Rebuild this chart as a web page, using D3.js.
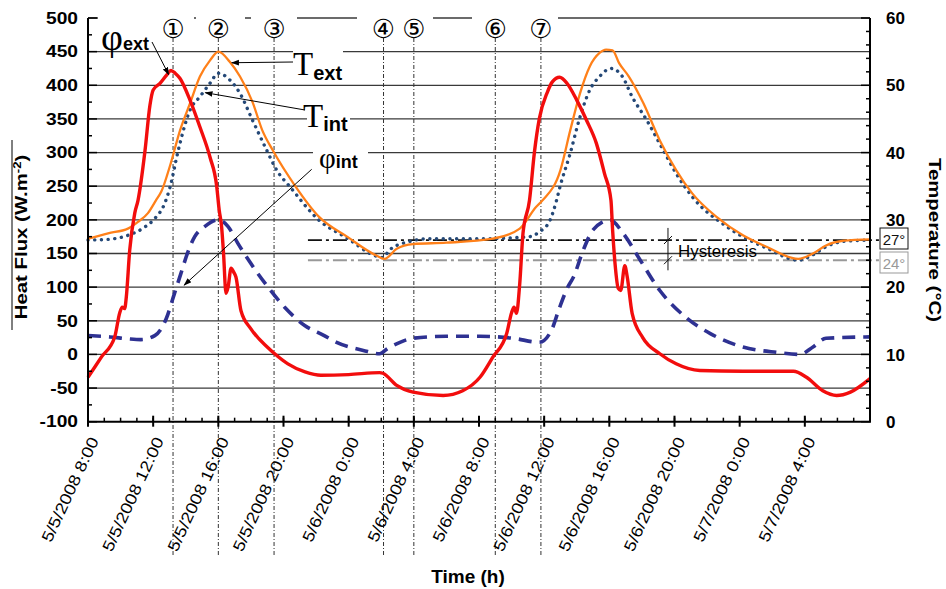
<!DOCTYPE html>
<html>
<head>
<meta charset="utf-8">
<script src="https://cdn.jsdelivr.net/npm/d3@7"></script>
<style>
  body { margin: 0; background: #fff; }
  svg { display: block; font-family: "Liberation Sans", Arial, sans-serif; }
</style>
</head>
<body>
<div id="chart"></div>
<script>
// variables
const WIDTH = 946;
const HEIGHT = 589;
const PLOT = { left: 88, right: 870, top: 18, bottom: 421.7 };
const START = new Date(2008, 4, 5, 8);
const END = new Date(2008, 4, 7, 8);

const RED = "#f20d0d";
const ORANGE = "#ff8019";
const INDIGO = "#2e3192";
const NAVY = "#244877";

// data: [hours since 5/5/2008 8:00, value]
const fluxTicks = [-100, -50, 0, 50, 100, 150, 200, 250, 300, 350, 400, 450, 500];
const tempTicks = [0, 10, 20, 30, 40, 50, 60];
const markerHours = [5.22, 8.0, 11.42, 18.14, 20.0, 25.0, 27.8];
const markerLabels = ["①", "②", "③", "④", "⑤", "⑥", "⑦"];
const setpoints = [27, 24];
const hysteresisHour = 35.6;

// heat flux, W/m2
const phiExt = [[0,-34],[0.82,-4],[1.64,26],[1.95,62],[2.1,70],[2.25,68],[2.35,85],[2.56,155],[2.87,210],
  [3.07,229],[3.5,303],[3.8,370],[4.0,393],[4.42,403],[4.85,416],[5.09,422],[5.35,418],[5.65,410],[6.26,378],
  [6.87,338],[7.49,293],[7.9,250],[8.05,215],[8.2,190],[8.32,150],[8.47,91],[8.6,100],[8.78,128],[8.95,122],
  [9.08,115],[9.39,65],[10.0,38],[11.05,10],[11.46,1],[12.27,-14],[13.32,-26],[14.3,-31],[16.0,-30],[17.9,-27],
  [18.1,-28],[18.95,-46],[19.95,-56],[21.8,-61],[23.0,-54],[24.06,-34],[24.85,-4],[25.7,31],[26.0,62],[26.15,70],
  [26.3,61],[26.5,105],[26.7,180],[27.1,229],[27.4,300],[27.7,350],[28.2,390],[28.5,405],[28.95,412],[29.4,403],
  [30.0,378],[30.6,348],[31.2,314],[31.7,269],[32.1,229],[32.2,185],[32.35,135],[32.55,98],[32.7,95],[32.95,132],
  [33.1,115],[33.4,61],[34.05,25],[35.1,1],[36.1,-14],[37.55,-24],[40.2,-25],[43.3,-25],[44.1,-34],[45.1,-54],
  [45.95,-61],[46.8,-56],[48,-36]];
const phiInt = [[0,28],[1.35,26],[2.5,23],[3.25,22],[4.1,28],[4.8,53],[5.3,90],[5.7,120],[6.1,150],[6.55,175],
  [7.16,190],[7.98,200],[8.6,190],[9.2,165],[10.0,135],[11.05,100],[12.07,70],[13.3,43],[14.5,28],[15.26,18],
  [16.9,6],[17.9,1],[18.4,9],[19.15,18],[19.95,24],[22.0,27],[24.06,27],[26.1,24],[27.7,18],[28.45,36],[28.95,70],
  [29.45,100],[29.8,115],[30.4,155],[31.0,185],[32.05,200],[32.85,180],[33.9,140],[35.1,95],[36.7,55],[38.2,31],
  [40.2,11],[42.3,3],[43.7,0],[44.5,11],[45.3,24],[48,26]];

// temperature, °C
const tExt = [[0,27.2],[1.23,28.0],[2.45,28.7],[3.07,29.7],[3.68,31.0],[4.17,32.9],[4.5,34.2],[5.03,38.0],
  [5.65,43.3],[6.26,47.3],[6.87,51.3],[7.49,53.7],[8.0,55.0],[8.7,53.5],[9.33,51.3],[10.1,47.5],[10.7,43.3],
  [11.35,40.3],[12.7,35.1],[14.2,30.4],[15.9,27.5],[17.7,24.7],[18.2,24.2],[18.95,25.7],[19.95,26.4],[22.0,26.6],
  [24.85,27.2],[26.5,28.7],[27.5,31.9],[27.9,32.9],[29.0,37.4],[29.6,43.3],[30.2,48.8],[30.8,52.8],[31.4,54.8],
  [31.8,55.3],[32.2,55.2],[32.6,53.3],[33.2,51.3],[34.1,47.3],[35.1,41.8],[36.1,37.4],[37.1,33.9],[38.6,30.4],
  [40.2,27.7],[41.65,26.0],[43.6,24.2],[44.5,25.0],[45.3,26.2],[46.4,26.9],[48,27.1]];
const tInt = [[0,27.0],[1.23,27.1],[2.45,27.7],[3.47,28.9],[4.1,30.2],[4.7,32.4],[5.03,34.8],[5.5,39.9],
  [5.65,41.4],[6.26,46.3],[6.87,48.3],[7.49,50.3],[8.0,51.8],[8.7,50.8],[9.33,48.8],[10.1,44.8],[10.96,40.4],
  [11.58,37.4],[12.4,34.9],[14.2,29.9],[15.9,27.3],[17.7,24.6],[18.1,24.4],[18.5,25.5],[19.6,26.7],[21.0,27.2],
  [24.06,27.2],[27.1,27.5],[27.7,28.2],[28.35,29.9],[28.76,32.9],[28.97,34.9],[29.6,39.9],[30.2,45.3],[30.8,49.3],
  [31.4,51.3],[32.1,52.5],[32.8,51.3],[33.4,48.3],[34.3,44.8],[35.3,40.4],[36.1,36.9],[37.1,33.4],[39.2,29.0],
  [41.65,25.8],[43.6,24.0],[44.5,24.8],[45.3,26.0],[46.4,26.8],[48,27.0]];

// scales
const atHour = h => new Date(START.getTime() + h * 3600e3);
const x = d3.scaleTime().domain([START, END]).range([PLOT.left, PLOT.right]);
const yFlux = d3.scaleLinear().domain([-100, 500]).range([PLOT.bottom, PLOT.top]);
const yTemp = d3.scaleLinear().domain([0, 60]).range([PLOT.bottom, PLOT.top]);
const fmt = d3.timeFormat("%-m/%-d/%Y %-H:%M");

const svg = d3
  .select("#chart")
  .append("svg")
  .attr("width", WIDTH)
  .attr("height", HEIGHT);

svg.append("defs")
  .append("marker")
  .attr("id", "arrow")
  .attr("viewBox", "0 0 10 10")
  .attr("refX", 9)
  .attr("refY", 5)
  .attr("markerWidth", 8)
  .attr("markerHeight", 8)
  .attr("orient", "auto")
  .append("path")
  .attr("d", "M0,1.5L10,5L0,8.5z")
  .attr("fill", "#000");

// horizontal grid
svg.append("g")
  .selectAll("line")
  .data(fluxTicks.slice(1))
  .join("line")
  .attr("x1", PLOT.left)
  .attr("x2", PLOT.right)
  .attr("y1", d => yFlux(d))
  .attr("y2", d => yFlux(d))
  .attr("stroke", "#3a3a3a")
  .attr("stroke-width", 1.3);

// white label boxes that hide parts of the grid
const boxes = [[98, 10, 96, 27], [196, 10, 49, 27], [251, 10, 46, 27], [357, 10, 76, 27], [472, 10, 86, 27],
  [293, 40, 50, 42], [307, 100, 43, 35], [313, 140, 55, 33]];
svg.append("g")
  .selectAll("rect")
  .data(boxes)
  .join("rect")
  .attr("x", d => d[0]).attr("y", d => d[1])
  .attr("width", d => d[2]).attr("height", d => d[3])
  .attr("fill", "#fff");

// event markers
svg.append("g")
  .selectAll("line")
  .data(markerHours)
  .join("line")
  .attr("x1", d => x(atHour(d)))
  .attr("x2", d => x(atHour(d)))
  .attr("y1", 38)
  .attr("y2", 555)
  .attr("stroke", "#333")
  .attr("stroke-width", 1)
  .attr("stroke-dasharray", "4,2,1,2");

svg.append("g")
  .selectAll("text")
  .data(markerHours)
  .join("text")
  .attr("x", d => x(atHour(d)))
  .attr("y", 37.5)
  .attr("text-anchor", "middle")
  .style("font-family", "'DejaVu Sans', 'Noto Sans CJK JP'")
  .style("font-size", "26px")
  .text((d, i) => markerLabels[i]);

// set-point lines 27° / 24°
svg.append("g")
  .selectAll("line")
  .data(setpoints)
  .join("line")
  .attr("x1", x(atHour(13.5)))
  .attr("x2", 880)
  .attr("y1", d => yTemp(d))
  .attr("y2", d => yTemp(d))
  .attr("stroke", (d, i) => i ? "#999" : "#111")
  .attr("stroke-width", (d, i) => i ? 2 : 1.8)
  .attr("stroke-dasharray", "14,4,3,4");

const boxG = svg.append("g")
  .selectAll("g")
  .data(setpoints)
  .join("g")
  .attr("transform", (d, i) => `translate(880,${i ? 252 : 228})`);
boxG.append("rect")
  .attr("width", 28).attr("height", 21)
  .attr("fill", "#fff")
  .attr("stroke", (d, i) => i ? "#999" : "#111");
boxG.append("text")
  .attr("x", 14).attr("y", 16.5)
  .attr("text-anchor", "middle")
  .attr("fill", (d, i) => i ? "#999" : "#111")
  .style("font-size", "15px")
  .text(d => d + "°");

// hysteresis marker
const hx = x(atHour(hysteresisHour));
svg.append("line")
  .attr("x1", hx).attr("x2", hx)
  .attr("y1", yTemp(28.8)).attr("y2", yTemp(22.5))
  .attr("stroke", "#111").attr("stroke-width", 1);
svg.append("g")
  .selectAll("line")
  .data(setpoints)
  .join("line")
  .attr("x1", hx - 4).attr("x2", hx + 4)
  .attr("y1", d => yTemp(d) + 4).attr("y2", d => yTemp(d) - 4)
  .attr("stroke", "#111").attr("stroke-width", 1);

// series
const line = yScale => d3.line()
  .x(d => x(atHour(d[0])))
  .y(d => yScale(d[1]))
  .curve(d3.curveMonotoneX);

svg.append("path").datum(tInt)
  .attr("d", line(yTemp))
  .attr("fill", "none").attr("stroke", NAVY)
  .attr("stroke-width", 3.4).attr("stroke-linecap", "round")
  .attr("stroke-dasharray", "0.1,6.6");
svg.append("path").datum(tExt)
  .attr("d", line(yTemp))
  .attr("fill", "none").attr("stroke", ORANGE)
  .attr("stroke-width", 2.3);
svg.append("path").datum(phiInt)
  .attr("d", line(yFlux))
  .attr("fill", "none").attr("stroke", INDIGO)
  .attr("stroke-width", 3.6)
  .attr("stroke-dasharray", "13,8");
svg.append("path").datum(phiExt)
  .attr("d", line(yFlux))
  .attr("fill", "none").attr("stroke", RED)
  .attr("stroke-width", 3.4).attr("stroke-linejoin", "round");

// hysteresis label (grid passes through it)
svg.append("text")
  .attr("x", hx + 10).attr("y", 257)
  .attr("textLength", 79).attr("lengthAdjust", "spacingAndGlyphs")
  .style("font-size", "16px")
  .text("Hysteresis");

// axes
const axes = svg.append("g").attr("stroke", "#000").attr("stroke-width", 2);
axes.append("line").attr("x1", PLOT.left).attr("x2", PLOT.left).attr("y1", PLOT.top).attr("y2", PLOT.bottom);
axes.append("line").attr("x1", PLOT.right).attr("x2", PLOT.right).attr("y1", PLOT.top).attr("y2", PLOT.bottom);
axes.append("line").attr("x1", PLOT.left - 1).attr("x2", PLOT.right + 1).attr("y1", PLOT.bottom).attr("y2", PLOT.bottom);

const fluxMinor = d3.range(-100, 501, 25);
axes.append("g").selectAll("line").data(fluxMinor).join("line")
  .attr("x1", PLOT.left)
  .attr("x2", d => PLOT.left + (d % 50 === 0 ? 9 : 4))
  .attr("y1", d => yFlux(d)).attr("y2", d => yFlux(d))
  .attr("stroke-width", 1.5);
const tempMinor = d3.range(0, 61, 2);
axes.append("g").selectAll("line").data(tempMinor).join("line")
  .attr("x1", PLOT.right)
  .attr("x2", d => PLOT.right - (d % 10 === 0 ? 9 : 4))
  .attr("y1", d => yTemp(d)).attr("y2", d => yTemp(d))
  .attr("stroke-width", 1.5);
axes.append("g").selectAll("line").data(d3.timeHour.every(1).range(START, END)).join("line")
  .attr("x1", d => x(d)).attr("x2", d => x(d))
  .attr("y1", PLOT.bottom - 4).attr("y2", PLOT.bottom)
  .attr("stroke-width", 1.5);
axes.append("g").selectAll("line").data(d3.timeHour.every(4).range(START, END)).join("line")
  .attr("x1", d => x(d)).attr("x2", d => x(d))
  .attr("y1", PLOT.bottom - 6).attr("y2", PLOT.bottom + 5)
  .attr("stroke-width", 2);

// tick labels
svg.append("g")
  .selectAll("text")
  .data(fluxTicks)
  .join("text")
  .attr("transform", d => `translate(78,${yFlux(d)}) scale(1.2,1)`)
  .attr("dy", "0.36em")
  .attr("text-anchor", "end")
  .style("font-size", "16px")
  .style("font-weight", "bold")
  .text(d => d);

svg.append("g")
  .selectAll("text")
  .data(tempTicks)
  .join("text")
  .attr("x", 886)
  .attr("y", d => yTemp(d))
  .attr("dy", "0.36em")
  .style("font-size", "17px")
  .style("font-weight", "bold")
  .text(d => d);

svg.append("g")
  .selectAll("text")
  .data(d3.timeHour.every(4).range(START, END))
  .join("text")
  .attr("transform", d => `translate(${x(d) + 11},440.5) rotate(-65) scale(1.16,1)`)
  .attr("text-anchor", "end")
  .style("font-size", "16px")
  .text(d => fmt(d));

// axis titles
const leftTitle = svg.append("text")
  .attr("transform", "translate(27,237) rotate(-90) scale(1.2,1)")
  .attr("text-anchor", "middle")
  .style("font-size", "17px")
  .style("font-weight", "bold");
leftTitle.append("tspan").text("Heat Flux  (W.m");
leftTitle.append("tspan").attr("dy", -6).style("font-size", "11px").text("-2");
leftTitle.append("tspan").attr("dy", 6).text(")");
svg.append("line")
  .attr("x1", 12).attr("x2", 12).attr("y1", 140).attr("y2", 330)
  .attr("stroke", "#000").attr("stroke-width", 1);

svg.append("text")
  .attr("transform", "translate(929,240) rotate(90) scale(1.2,1)")
  .attr("text-anchor", "middle")
  .style("font-size", "17px")
  .style("font-weight", "bold")
  .text("Temperature (°C)");

svg.append("text")
  .attr("x", 468).attr("y", 583)
  .attr("text-anchor", "middle")
  .style("font-size", "19px")
  .style("font-weight", "bold")
  .text("Time (h)");

// curve annotations
function label(xp, yp, sym, symSize, sub, subSize, subDy) {
  const t = svg.append("text").attr("x", xp).attr("y", yp);
  t.append("tspan")
    .style("font-family", "'Liberation Serif', 'Times New Roman', serif")
    .style("font-size", symSize + "px")
    .text(sym);
  t.append("tspan")
    .attr("dy", subDy)
    .style("font-size", subSize + "px")
    .style("font-weight", "bold")
    .text(sub);
}
label(101, 50, "φ", 38, "ext", 18, 0);
label(293, 75, "T", 33, "ext", 20, 5);
label(303, 127, "T", 33, "int", 20, 4);
label(319, 168, "φ", 29, "int", 18, 0);

const arrows = [
  [152, 42, x(atHour(4.95)), yFlux(416)],
  [293, 62, x(atHour(8.7)) + 2, yTemp(53.5) + 1],
  [305, 110, x(atHour(7.2)), yTemp(49.2) + 2],
  [311.7, 169.3, x(atHour(5.9)), yFlux(103)]
];
svg.append("g")
  .selectAll("line")
  .data(arrows)
  .join("line")
  .attr("x1", d => d[0]).attr("y1", d => d[1])
  .attr("x2", d => d[2]).attr("y2", d => d[3])
  .attr("stroke", "#000").attr("stroke-width", 1)
  .attr("marker-end", "url(#arrow)");
</script>
</body>
</html>
